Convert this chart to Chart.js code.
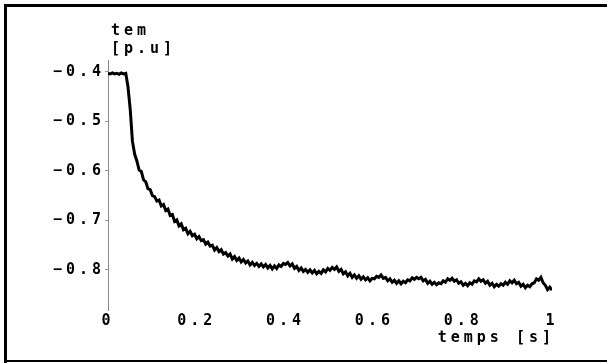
<!DOCTYPE html>
<html>
<head>
<meta charset="utf-8">
<script src="https://cdn.jsdelivr.net/npm/chart.js@4.4.1/dist/chart.umd.min.js"></script>
<style>
  html, body { margin: 0; padding: 0; background: #fff; }
  #wrap { width: 607px; height: 363px; }
</style>
</head>
<body>
<div id="wrap"><canvas id="myChart" width="607" height="363"></canvas></div>
<script>
// electromagnetic torque response, sampled every 5 ms
const T_STEP = 0.005;
const tem = [
  -0.403, -0.404, -0.402, -0.404, -0.403, -0.405, -0.402, -0.404, -0.403, -0.430,
  -0.475, -0.540, -0.566, -0.580, -0.598, -0.601, -0.618, -0.622, -0.636, -0.638,
  -0.650, -0.652, -0.661, -0.659, -0.671, -0.668, -0.680, -0.677, -0.690, -0.688,
  -0.702, -0.699, -0.711, -0.707, -0.719, -0.716, -0.727, -0.722, -0.731, -0.728,
  -0.737, -0.733, -0.741, -0.739, -0.748, -0.744, -0.752, -0.750, -0.760, -0.755,
  -0.763, -0.759, -0.768, -0.765, -0.772, -0.768, -0.778, -0.773, -0.781, -0.776,
  -0.784, -0.779, -0.786, -0.782, -0.790, -0.785, -0.791, -0.787, -0.793, -0.788,
  -0.794, -0.789, -0.796, -0.791, -0.798, -0.792, -0.797, -0.790, -0.793, -0.787,
  -0.789, -0.785, -0.792, -0.788, -0.797, -0.793, -0.801, -0.796, -0.803, -0.799,
  -0.805, -0.800, -0.806, -0.801, -0.808, -0.803, -0.807, -0.800, -0.804, -0.797,
  -0.801, -0.795, -0.799, -0.794, -0.803, -0.799, -0.808, -0.804, -0.812, -0.807,
  -0.815, -0.810, -0.817, -0.812, -0.819, -0.814, -0.820, -0.816, -0.822, -0.817,
  -0.818, -0.813, -0.815, -0.810, -0.817, -0.815, -0.822, -0.818, -0.825, -0.821,
  -0.827, -0.822, -0.828, -0.823, -0.826, -0.820, -0.822, -0.816, -0.819, -0.815,
  -0.818, -0.815, -0.822, -0.819, -0.827, -0.823, -0.829, -0.825, -0.830, -0.826,
  -0.828, -0.822, -0.825, -0.818, -0.821, -0.817, -0.823, -0.820, -0.827, -0.824,
  -0.831, -0.827, -0.832, -0.826, -0.829, -0.822, -0.824, -0.818, -0.823, -0.820,
  -0.827, -0.823, -0.831, -0.827, -0.834, -0.829, -0.833, -0.828, -0.831, -0.825,
  -0.829, -0.822, -0.826, -0.821, -0.828, -0.825, -0.833, -0.829, -0.836, -0.831,
  -0.834, -0.828, -0.826, -0.818, -0.821, -0.815, -0.826, -0.831, -0.840, -0.835,
  -0.841
];
const xTicks = [0, 0.2, 0.4, 0.6, 0.8, 1];
const yTicks = [-0.8, -0.7, -0.6, -0.5, -0.4];

const FONT = { family: '"DejaVu Sans Mono", monospace', size: 15, weight: 'bold' };
const SPACING = '4px';

// white page, frame and the axis captions
const framePlugin = {
  id: 'frame',
  beforeDraw(chart) {
    const ctx = chart.ctx;
    ctx.save();
    ctx.fillStyle = '#fff';
    ctx.fillRect(0, 0, chart.width, chart.height);
    ctx.restore();
    ctx.letterSpacing = SPACING;
  },
  afterDraw(chart) {
    const ctx = chart.ctx;
    ctx.save();
    ctx.letterSpacing = SPACING;
    ctx.fillStyle = '#000';
    ctx.font = 'bold 15px "DejaVu Sans Mono", monospace';
    ctx.textBaseline = 'middle';
    ctx.textAlign = 'left';
    ctx.fillText('tem', 111, 31);
    ctx.fillText('[p.u]', 111, 49);
    ctx.textAlign = 'right';
    ctx.fillText('temps [s]', 555, 338);
    ctx.letterSpacing = '0px';
    ctx.fillRect(4, 4, chart.width - 4, 3);
    ctx.fillRect(4, 4, 3, chart.height - 4);
    ctx.fillRect(4, 360, chart.width - 4, 2);
    ctx.restore();
  }
};

new Chart(document.getElementById('myChart'), {
  type: 'line',
  data: {
    datasets: [{
      data: tem.map((v, i) => ({ x: i * T_STEP, y: v })),
      borderColor: '#000',
      borderWidth: 3,
      pointRadius: 0,
      tension: 0,
      fill: false
    }]
  },
  options: {
    responsive: false,
    animation: false,
    devicePixelRatio: 1,
    layout: { padding: { left: 0, top: 60, right: 55, bottom: 0 } },
    plugins: { legend: { display: false }, tooltip: { enabled: false } },
    scales: {
      x: {
        type: 'linear',
        min: 0,
        max: 1,
        afterBuildTicks: axis => { axis.ticks = xTicks.map(v => ({ value: v })); },
        afterFit: scale => { scale.height = 53; },
        grid: { display: false, drawTicks: false },
        border: { display: false },
        ticks: {
          color: '#000',
          font: FONT,
          padding: 2,
          maxRotation: 0,
          autoSkip: false,
          callback: v => String(v)
        }
      },
      y: {
        min: -0.881,
        max: -0.376,
        afterBuildTicks: axis => { axis.ticks = yTicks.map(v => ({ value: v })); },
        afterFit: scale => { scale.width = 108; },
        grid: { drawOnChartArea: false, drawTicks: true, tickLength: 3, color: '#999' },
        border: { display: true, color: '#8a8a8a', width: 1 },
        ticks: {
          color: '#000',
          font: FONT,
          padding: 0,
          autoSkip: false,
          callback: v => '\u2212' + Math.abs(v).toFixed(1)
        }
      }
    }
  },
  plugins: [framePlugin]
});
</script>
</body>
</html>
